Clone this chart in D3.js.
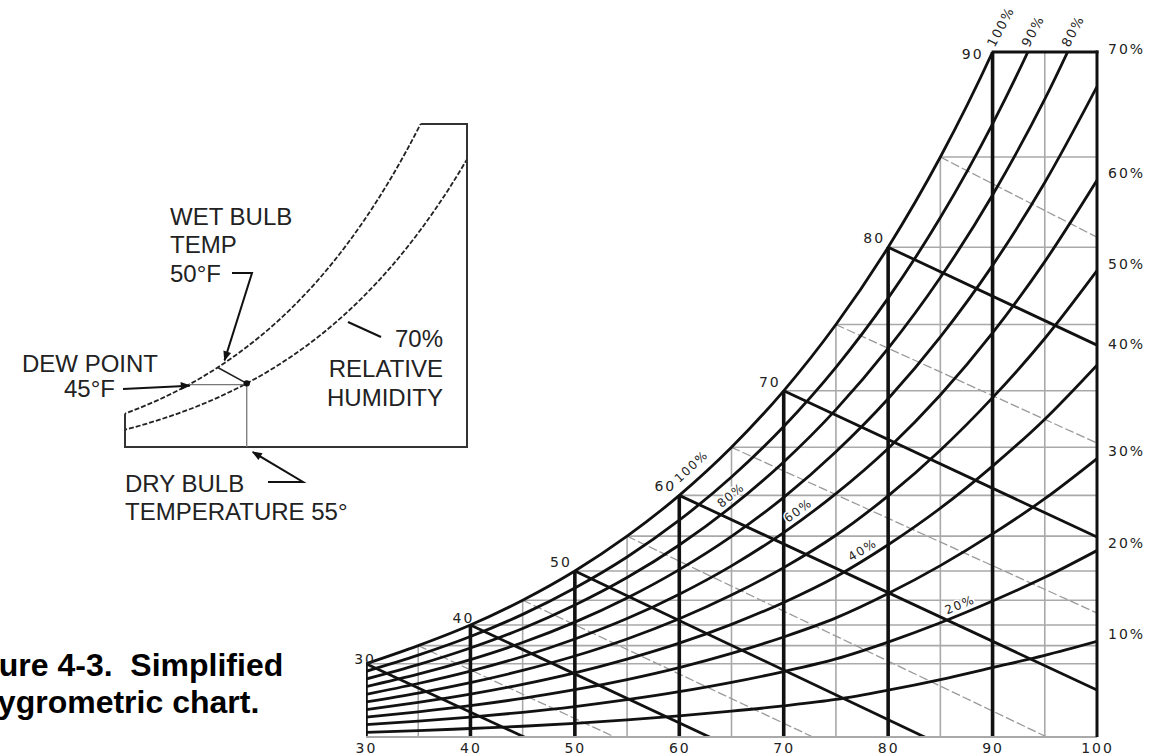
<!DOCTYPE html>
<html><head><meta charset="utf-8">
<script src="https://cdn.jsdelivr.net/npm/d3@7"></script>
<style>
html,body{margin:0;padding:0;background:#fff;}
svg{display:block;}
.lbl{font-family:"DejaVu Sans",sans-serif;font-size:14px;fill:#222;letter-spacing:2px;}
.ins{font-family:"Liberation Sans",Arial,sans-serif;font-size:24px;fill:#222;}
.ttl{font-family:"Liberation Sans",Arial,sans-serif;font-size:32px;font-weight:bold;fill:#000;white-space:pre;}
</style></head>
<body>
<svg id="chart" width="1151" height="754"></svg>
<script>
// ---- data (humidity ratio, thousandths lb/lb) ----
const temps = [30,35,40,45,50,55,60,65,70,75,80,85,90,95,100];
const rh100 = [3.44,4.26,5.19,6.31,7.63,9.20,11.04,13.21,15.76,18.75,22.24,26.31,31.05,36.58,43.00];
const rh90  = [3.10,3.83,4.67,5.67,6.86,8.26,9.92,11.87,14.15,16.82,19.94,23.58,27.81,32.73,38.44];
const rh80  = [2.75,3.40,4.15,5.03,6.09,7.33,8.80,10.53,12.55,14.91,17.67,20.87,24.60,28.92,33.93];
const rh70  = [2.41,2.97,3.63,4.40,5.32,6.41,7.69,9.19,10.95,13.01,15.40,18.19,21.42,25.16,29.49];
const rh60  = [2.06,2.55,3.11,3.77,4.56,5.48,6.58,7.86,9.36,11.12,13.16,15.57,18.37,21.59,25.26];
const rh50  = [1.72,2.12,2.59,3.14,3.79,4.56,5.47,6.54,7.78,9.24,11.02,13.08,15.45,18.12,21.18];
const rh40  = [1.37,1.70,2.07,2.51,3.03,3.65,4.37,5.22,6.21,7.37,8.81,10.46,12.36,14.48,16.92];
const rh30  = [1.03,1.27,1.55,1.88,2.27,2.73,3.27,3.91,4.65,5.51,6.61,7.87,9.30,10.89,12.70];
const rh20  = [0.69,0.85,1.03,1.25,1.51,1.82,2.18,2.60,3.09,3.66,4.42,5.29,6.27,7.34,8.55];
const rh10  = [0.34,0.42,0.52,0.62,0.75,0.91,1.09,1.30,1.54,1.83,2.25,2.73,3.27,3.82,4.45];
const rhLevels = [100,90,80,70,60,50,40,30,20,10];

const majorTemps = [30,40,50,60,70,80,90];
const minorTemps = [35,45,55,65,75,85,95];
const dewTemps = [30,35,40,45,50,55,60,65,70,75,80,85];
const wbMajorTemps = [30,40,50,60,70,80];
const wbMajorEnd   = [-11.83,-8.06,-3.56,2.26,9.16,17.82];   // value at 100 F
const wbMinorTemps = [35,45,55,65,75,85];
const wbMinorEnd   = [-10.00,-5.91,-0.95,5.73,13.40,22.69];

const bottomTicks = [30,40,50,60,70,80,90,100];
const satLabels = ["30","40","50","60","70","80","90"];
const rightLabelLevels = [70,60,50,40,30,20,10];
const topLabelLevels = [100,90,80];
const curveLabelLevels = [100,80,60,40,20];
const curveLabelTemps  = [62.0,65.5,71.9,78.0,87.2];

// inset (schematic) values
const insetDryBulb = 55, insetDewPoint = 45, insetWetBulb = 50, insetRH = 70;

// ---- setup ----
const rhSeries = [rh100,rh90,rh80,rh70,rh60,rh50,rh40,rh30,rh20,rh10];
const byLevel = {}; rhLevels.forEach((l,i)=>byLevel[l]=rhSeries[i]);
const interp = arr => d3.scaleLinear().domain(temps).range(arr);
const sat = interp(rh100);

const svg = d3.select("#chart");
const defs = svg.append("defs");
defs.append("marker").attr("id","arr").attr("viewBox","0 0 10 10")
  .attr("refX",9).attr("refY",5).attr("markerUnits","userSpaceOnUse")
  .attr("markerWidth",13).attr("markerHeight",10).attr("orient","auto")
  .append("path").attr("d","M0,1 L10,5 L0,9 z").attr("fill","#111");

const x = d3.scaleLinear().domain([30,100]).range([366,1097]);
const y = d3.scaleLinear().domain([0,31.05]).range([740,52]);
const wBottom = y.invert(737);
const yTop = y(31.05), yBot = y(wBottom);

defs.append("clipPath").attr("id","clipMain").append("rect")
  .attr("x",x(30)).attr("y",yTop).attr("width",x(100)-x(30)).attr("height",yBot-yTop);

const gray = "#a9a9a9", blk = "#111";
const g = svg.append("g").attr("clip-path","url(#clipMain)");

// gray verticals (every 5 F between majors)
g.selectAll(".gv").data(minorTemps).join("line")
  .attr("x1",d=>x(d)).attr("x2",d=>x(d)).attr("y1",yBot).attr("y2",d=>y(sat(d)))
  .attr("stroke",gray).attr("stroke-width",1.6);
// gray horizontals (dew-point lines)
g.selectAll(".gh").data(dewTemps).join("line")
  .attr("x1",d=>x(d)).attr("x2",x(100)).attr("y1",d=>y(sat(d))).attr("y2",d=>y(sat(d)))
  .attr("stroke",gray).attr("stroke-width",1.6);
// gray wet-bulb lines
g.selectAll(".gw").data(wbMinorTemps).join("line")
  .attr("x1",d=>x(d)).attr("y1",d=>y(sat(d)))
  .attr("x2",x(100)).attr("y2",(d,i)=>y(wbMinorEnd[i]))
  .attr("stroke","#9a9a9a").attr("stroke-width",1.3).attr("stroke-dasharray","9,3");
// bottom line
svg.append("line").attr("x1",x(30)).attr("x2",x(100)).attr("y1",yBot).attr("y2",yBot)
  .attr("stroke",gray).attr("stroke-width",2);

// RH curves
const line = d3.line().x((d,i)=>x(temps[i])).y(d=>y(d)).curve(d3.curveMonotoneX);
g.selectAll(".rh").data(rhSeries).join("path")
  .attr("d",d=>line(d)).attr("fill","none").attr("stroke",blk).attr("stroke-width",2.8);
// wet-bulb thick lines
g.selectAll(".wb").data(wbMajorTemps).join("line")
  .attr("x1",d=>x(d)).attr("y1",d=>y(sat(d)))
  .attr("x2",x(100)).attr("y2",(d,i)=>y(wbMajorEnd[i]))
  .attr("stroke",blk).attr("stroke-width",2.8);
// thick verticals
g.selectAll(".tv").data(majorTemps).join("line")
  .attr("x1",d=>x(d)).attr("x2",d=>x(d)).attr("y1",yBot).attr("y2",d=>y(sat(d)))
  .attr("stroke",blk).attr("stroke-width",3.6);
// frame right + top
svg.append("line").attr("x1",x(100)).attr("x2",x(100)).attr("y1",yBot).attr("y2",yTop-1.5)
  .attr("stroke",blk).attr("stroke-width",3);
svg.append("line").attr("x1",x(90)-1).attr("x2",x(100)+1.5).attr("y1",yTop).attr("y2",yTop)
  .attr("stroke",blk).attr("stroke-width",3);

// bottom axis
const ax = svg.append("g").attr("transform",`translate(0,${yBot})`)
  .call(d3.axisBottom(x).tickValues(bottomTicks).tickSize(0).tickPadding(6));
ax.select(".domain").remove();
ax.selectAll("text").attr("class","lbl").attr("font-family",null).attr("font-size",null).attr("fill",null);

// saturation temperature labels
const satNudge = {"30":[13,4],"40":[7,2],"90":[-6,11]};
svg.selectAll(".sl").data(majorTemps).join("text").attr("class","lbl")
  .attr("text-anchor","end")
  .attr("x",(d,i)=>x(d)-3+(satNudge[satLabels[i]]||[0,0])[0])
  .attr("y",(d,i)=>y(sat(d))-4+(satNudge[satLabels[i]]||[0,0])[1])
  .text((d,i)=>satLabels[i]);

// right RH labels
const rightNudge = {70:-30,40:-14};
svg.selectAll(".rl").data(rightLabelLevels).join("text").attr("class","lbl")
  .attr("x",x(100)+11)
  .attr("y",d=>y(byLevel[d][temps.length-1])-7+(rightNudge[d]||0))
  .attr("dy","0.35em").text(d=>d+"%");

// top labels (where curves leave the top frame)
svg.selectAll(".tl").data(topLabelLevels).join("text").attr("class","lbl")
  .style("font-size","13px").style("letter-spacing","1.5px")
  .attr("transform",d=>{
    const t = d3.scaleLinear().domain(byLevel[d]).range(temps)(31.05);
    return `translate(${x(t)+2},${yTop-4}) rotate(-62)`;})
  .text(d=>d+"%");

// labels along curves
svg.selectAll(".cl").data(curveLabelLevels).join("text").attr("class","lbl")
  .style("font-size","12px").style("letter-spacing","1.5px")
  .attr("stroke","#fff").attr("stroke-width",3).attr("paint-order","stroke")
  .attr("text-anchor","middle")
  .attr("transform",(d,i)=>{
    const f = interp(byLevel[d]); const t = curveLabelTemps[i];
    const px = x(t), py = y(f(t));
    const ang = Math.atan2(y(f(t+1))-y(f(t-1)), x(t+1)-x(t-1))*180/Math.PI;
    return `translate(${px},${py}) rotate(${ang})`;})
  .attr("dy",d=>d===100?-9:-5)
  .text(d=>d+"%");

// ---- inset schematic ----
const xi = d3.scaleLinear().domain([34,93]).range([125,467]);
const yi = d3.scaleLinear().domain([1.53,26.3]).range([447,124]);
defs.append("clipPath").attr("id","clipIn").append("rect")
  .attr("x",xi(34)).attr("y",yi(26.3)).attr("width",xi(93)-xi(34)).attr("height",yi(1.53)-yi(26.3));
const gi = svg.append("g");
const lineI = d3.line().x((d,i)=>xi(temps[i])).y(d=>yi(d)).curve(d3.curveMonotoneX);
gi.append("g").attr("clip-path","url(#clipIn)").selectAll("path").data([rh100, byLevel[insetRH]]).join("path")
  .attr("d",d=>lineI(d)).attr("fill","none").attr("stroke","#222").attr("stroke-width",1.8)
  .attr("stroke-dasharray","5,2");
const frame = [[34,sat(34)],[34,1.53],[93,1.53],[93,26.3],[d3.scaleLinear().domain(rh100).range(temps)(26.3),26.3]];
gi.append("path").attr("d",d3.line().x(d=>xi(d[0])).y(d=>yi(d[1]))(frame))
  .attr("fill","none").attr("stroke","#333").attr("stroke-width",2);
const fRH = interp(byLevel[insetRH]);
const ptX = xi(insetDryBulb), ptY = yi(fRH(insetDryBulb));
// dew point horizontal, dry bulb vertical, wet bulb line
gi.append("line").attr("x1",xi(insetDewPoint)).attr("x2",ptX).attr("y1",yi(sat(insetDewPoint))).attr("y2",yi(sat(insetDewPoint)))
  .attr("stroke","#777").attr("stroke-width",1.3);
gi.append("line").attr("x1",ptX).attr("x2",ptX).attr("y1",ptY).attr("y2",yi(1.53))
  .attr("stroke","#777").attr("stroke-width",1.3);
gi.append("line").attr("x1",xi(insetWetBulb)).attr("y1",yi(sat(insetWetBulb))).attr("x2",ptX).attr("y2",ptY)
  .attr("stroke","#222").attr("stroke-width",1.6);
gi.append("circle").attr("cx",ptX).attr("cy",ptY).attr("r",3.2).attr("fill","#111");

// inset texts
const tx = [
  ["WET BULB",170,225,"start"],["TEMP",170,253,"start"],["50°F",170,282,"start"],
  ["DEW POINT",22,372,"start"],["45°F",64,397,"start"],
  ["70%",443,347,"end"],["RELATIVE",443,377,"end"],["HUMIDITY",443,406,"end"],
  ["DRY BULB",125,492,"start"],["TEMPERATURE 55°",125,520,"start"]];
svg.selectAll(".it").data(tx).join("text").attr("class","ins")
  .attr("x",d=>d[1]).attr("y",d=>d[2]).attr("text-anchor",d=>d[3]).text(d=>d[0]);

const arrowPath = d3.line();
const wbTip = [xi(insetWetBulb+1)+1, yi(sat(insetWetBulb+1))-3];
const dpTip = [xi(insetDewPoint)+1, yi(sat(insetDewPoint))+1];
const dbTip = [ptX+6, yi(1.53)+5];
const arrows = [
  {pts:[[232,273],[252,273],wbTip], head:true},
  {pts:[[123,389],dpTip], head:true},
  {pts:[[268,482],[303,482],dbTip], head:true},
  {pts:[[381,337],[348,322]], head:false}];
svg.selectAll(".ar").data(arrows).join("path")
  .attr("d",d=>arrowPath(d.pts)).attr("fill","none").attr("stroke","#111").attr("stroke-width",2)
  .attr("marker-end",d=>d.head?"url(#arr)":null);

// title (partially cut at left edge)
svg.append("text").attr("class","ttl").attr("x",117).attr("y",676).attr("text-anchor","middle").text("Figure 4-3.  Simplified");
svg.append("text").attr("class","ttl").attr("x",117).attr("y",713).attr("text-anchor","middle").text("Hygrometric chart.");
</script>
</body></html>
